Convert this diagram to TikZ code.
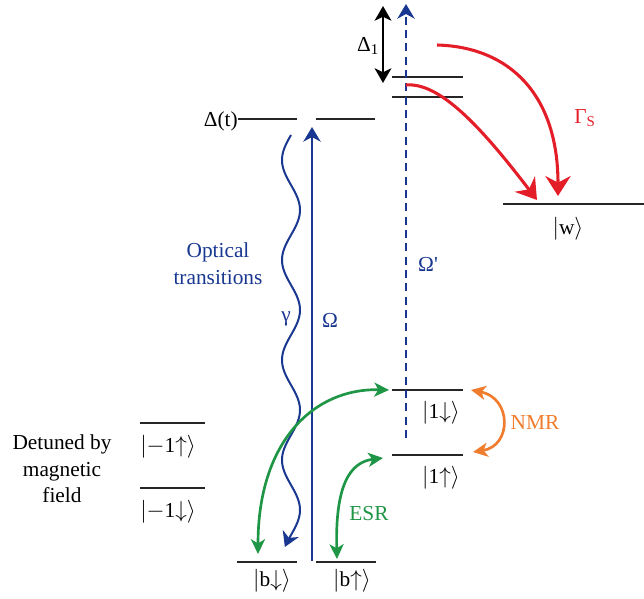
\documentclass[tikz,border=0pt]{standalone}
\usepackage{fontspec}
\setmainfont{LiberationSerif}[Extension=.ttf, UprightFont=*-Regular, BoldFont=*-Bold, ItalicFont=*-Italic]
\usetikzlibrary{arrows.meta}
\definecolor{optblue}{RGB}{25,55,145}
\definecolor{decred}{RGB}{228,30,40}
\definecolor{mwgreen}{RGB}{30,150,70}
\definecolor{nmrorange}{RGB}{240,125,45}
\newcommand{\myket}[1]{$|$#1$\rangle$}
\begin{document}
\begin{tikzpicture}[x=0.75pt,y=-0.75pt,
  font=\fontsize{16}{20}\selectfont,
  level/.style={line width=1.6pt, black!85},
  lbl/.style={inner sep=0pt, align=center},
  redarr/.style={decred, line width=2.3pt, -{Stealth[length=15pt,width=19pt,inset=5pt]}},
  bluetip/.style={-{Stealth[length=11pt,width=13pt,inset=3.5pt]}},
  greenarr/.style={mwgreen, line width=2pt, {Stealth[length=11pt,width=10.5pt,inset=3pt]}-{Stealth[length=11pt,width=10.5pt,inset=3pt]}},
  orangearr/.style={nmrorange, line width=2pt, {Stealth[length=11pt,width=10.5pt,inset=3pt]}-{Stealth[length=11pt,width=10.5pt,inset=3pt]}},
  blackarr/.style={black, line width=2pt, {Stealth[length=11pt,width=12.5pt,inset=3pt]}-{Stealth[length=11pt,width=12.5pt,inset=3pt]}}
]
\useasboundingbox (0,0) rectangle (644,599);

% ---- level endpoints ----
\coordinate (eAl) at (238,119); \coordinate (eAr) at (297,119);
\coordinate (eBl) at (316,119); \coordinate (eBr) at (375,119);
\coordinate (u1l) at (392,77);  \coordinate (u1r) at (463,77);
\coordinate (u2l) at (392,97);  \coordinate (u2r) at (463,97);
\coordinate (wl) at (503,204);  \coordinate (wr) at (644,204);
\coordinate (odl) at (392,390); \coordinate (odr) at (463,390);
\coordinate (oul) at (392,455); \coordinate (our) at (463,455);
\coordinate (bdl) at (237,562); \coordinate (bdr) at (297,562);
\coordinate (bul) at (316,562); \coordinate (bur) at (376,562);
\coordinate (mul) at (140,423); \coordinate (mur) at (205,423);
\coordinate (mdl) at (140,488); \coordinate (mdr) at (205,488);

\draw[level] (eAl) -- (eAr);
\draw[level] (eBl) -- (eBr);
\draw[level] (u1l) -- (u1r);
\draw[level] (u2l) -- (u2r);
\draw[level] (wl) -- (wr);
\draw[level] (odl) -- (odr);
\draw[level] (oul) -- (our);
\draw[level] (bdl) -- (bdr);
\draw[level] (bul) -- (bur);
\draw[level] (mul) -- (mur);
\draw[level] (mdl) -- (mdr);

% ---- labels ----
\node[lbl, anchor=east] (dt) at (238,121) {Δ(t)};
\node[lbl] (d1) at (368,46) {Δ$_{\mathrm{1}}$};
\node[lbl, text=decred] (gs) at (585,118) {Γ\textsubscript{S}};
\node[lbl] (w) at (568,229) {\myket{w}};
\node[lbl, text=optblue] (omp) at (428,264) {Ω\textquotesingle};
\node[lbl, text=optblue] (opt) at (218,264) {Optical\\transitions};
\node[lbl, text=optblue] (gam) at (286,319) {γ};
\node[lbl, text=optblue] (om) at (330,320) {Ω};
\node[lbl] (k1d) at (441,413) {\myket{1$\downarrow$}};
\node[lbl] (k1u) at (441,478) {\myket{1$\uparrow$}};
\node[lbl, text=nmrorange] (nmr) at (535,423) {NMR};
\node[lbl, text=mwgreen] (esr) at (369,514) {ESR};
\node[lbl] (kbd) at (272,581) {\myket{b$\downarrow$}};
\node[lbl] (kbu) at (352,581) {\myket{b$\uparrow$}};
\node[lbl] (kmu) at (168,447) {\myket{$-$1$\uparrow$}};
\node[lbl] (kmd) at (168,512) {\myket{$-$1$\downarrow$}};
\node[lbl] (det) at (62,469) {Detuned by\\magnetic\\field};

% ---- Delta_1 ----
\coordinate (d1top) at (383,6);
\coordinate (d1bot) at (383,83);
\draw[blackarr] (d1top) -- (d1bot);

% ---- Omega' dashed ----
\coordinate (dtop) at (406,4);
\coordinate (dbot) at (406,438);
\draw[optblue, line width=1.6pt, dash pattern=on 6pt off 4pt, bluetip] (dbot) -- (dtop);

% ---- Omega ----
\coordinate (otop) at (312,127);
\coordinate (obot) at (312,561);
\draw[optblue, line width=1.6pt, bluetip] (obot) -- (otop);

% ---- gamma wavy ----
\draw[optblue, line width=1.5pt, bluetip]
  plot[domain=135:547, samples=160, variable=\t] ({291+9*sin(3.6*(\t-185))}, {\t});

% ---- red decays ----
\coordinate (r1s) at (437,45);  \coordinate (r1e) at (558,196);
\coordinate (r2s) at (406,85);  \coordinate (r2e) at (537,200);
\draw[redarr] (r1s) .. controls (510,47) and (558,95) .. (r1e);
\draw[redarr] (r2s) .. controls (440,82) and (482,128) .. (r2e);

% ---- green ----
\coordinate (g1a) at (258,554); \coordinate (g1b) at (389,390);
\draw[greenarr] (g1a) .. controls (258,440) and (315,388) .. (g1b);
\coordinate (g2a) at (337,559); \coordinate (g2b) at (383,458);
\draw[greenarr] (g2a) .. controls (335,485) and (350,462) .. (g2b);

% ---- NMR ----
\coordinate (n1) at (471,390); \coordinate (n2) at (473,452);
\draw[orangearr] (n1) .. controls (512,398) and (512,446) .. (n2);
\end{tikzpicture}
\end{document}
